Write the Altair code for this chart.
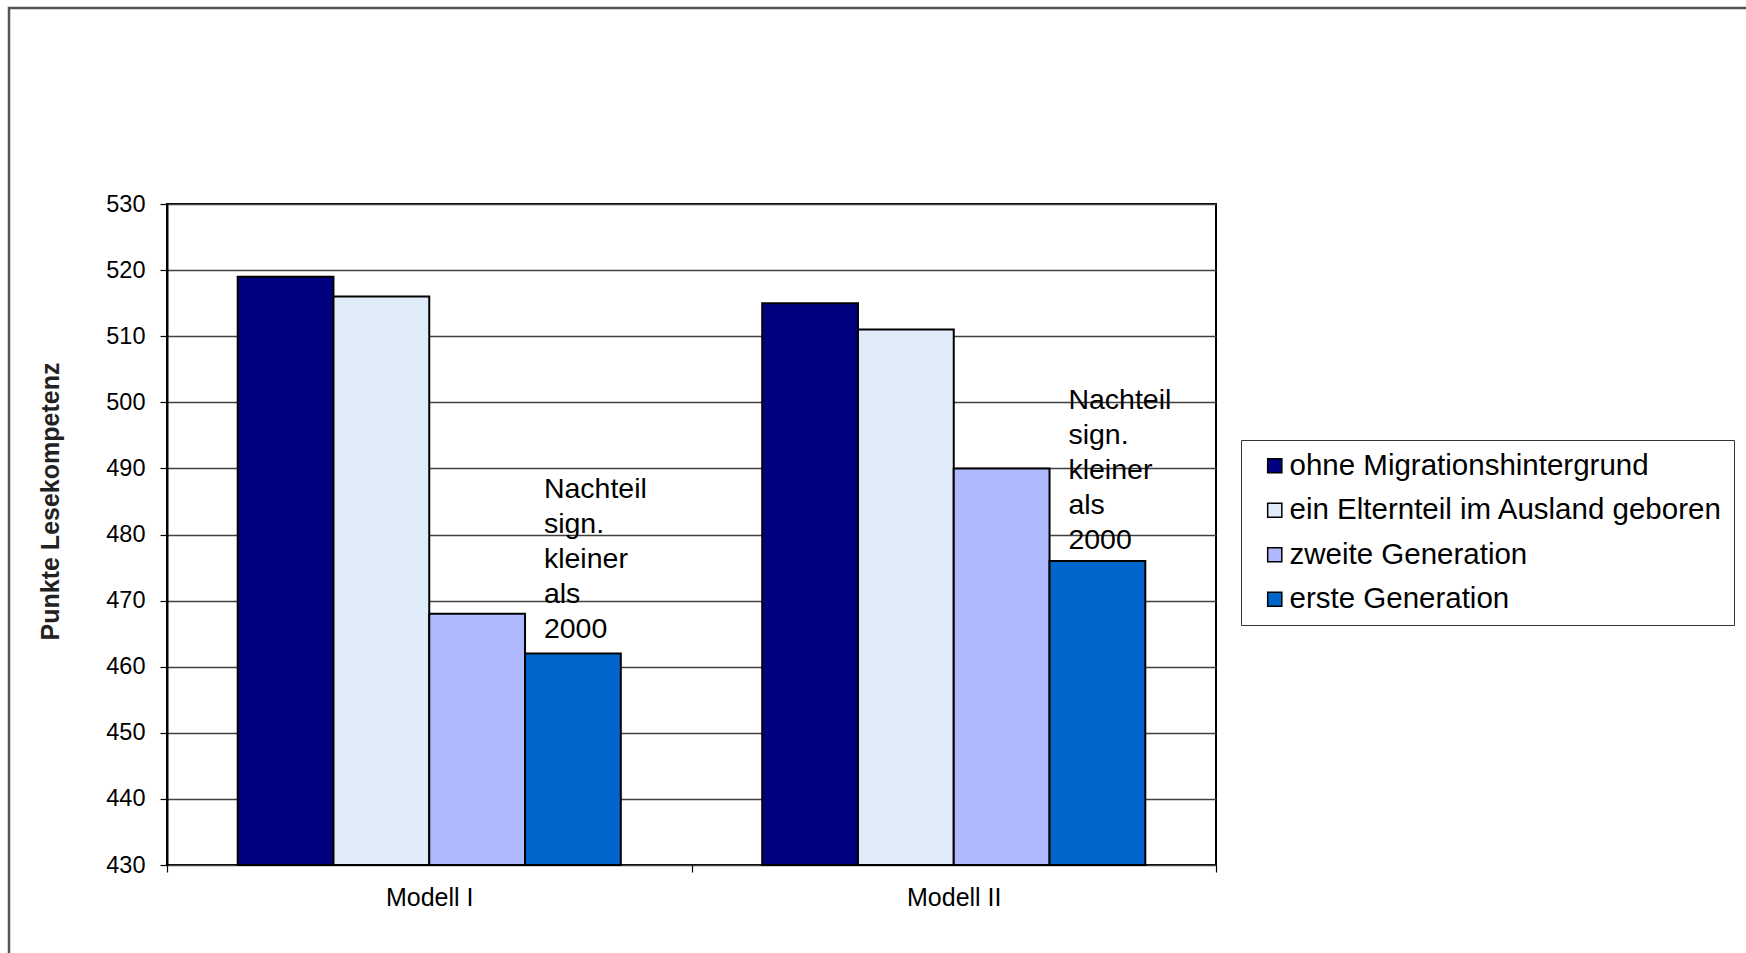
import altair as alt
import pandas as pd

modelle = ["Modell I", "Modell II"]
gruppen = ["ohne Migrationshintergrund", "ein Elternteil im Ausland geboren",
           "zweite Generation", "erste Generation"]
werte_modell_1 = [519, 516, 468, 462]
werte_modell_2 = [515, 511, 490, 476]
farben = ["#000080", "#e0ecfa", "#b0b8ff", "#0066cc"]

anm_text = ["Nachteil\nsign.\nkleiner\nals\n2000", "Nachteil\nsign.\nkleiner\nals\n2000"]
anm_y = [489, 502.5]

rows = []
for m, vals in zip(modelle, [werte_modell_1, werte_modell_2]):
    for g, v in zip(gruppen, vals):
        rows.append({"Modell": m, "Gruppe": g, "Wert": v})
df = pd.DataFrame(rows)

df_ann = pd.DataFrame({"Modell": modelle, "Gruppe": ["erste Generation"] * 2,
                       "Wert": anm_y, "Text": anm_text})

FONT = "Liberation Sans, Arial, sans-serif"

x_enc = alt.X("Modell:N", sort=modelle, title=None,
              scale=alt.Scale(paddingInner=0, paddingOuter=0),
              axis=alt.Axis(labelAngle=0, labelFontSize=25, labelFont=FONT, labelColor="#000",
                            tickBand="extent", ticks=True, tickSize=7, tickColor="#000",
                            tickWidth=1.2, domain=False, grid=False, labelPadding=13))
xo_enc = alt.XOffset("Gruppe:N", sort=gruppen,
                     scale=alt.Scale(domain=gruppen, paddingInner=0, paddingOuter=0.738))
y_enc = alt.Y("Wert:Q", title="Punkte Lesekompetenz",
              scale=alt.Scale(domain=[430, 530], zero=False, nice=False),
              axis=alt.Axis(values=list(range(430, 531, 10)), labelFontSize=23.5, labelFont=FONT,
                            labelColor="#000", tickSize=7, tickColor="#000", tickWidth=1.2,
                            labelPadding=15, domain=True, domainColor="#000", domainWidth=2,
                            grid=True, gridColor="#404040", gridWidth=1.3,
                            titleFontSize=25, titleFont=FONT, titleFontWeight="bold",
                            titleColor="#222", titleX=-117, titleY=297, titleAngle=270,
                            titleAlign="center", titleBaseline="middle"))

bars = alt.Chart(df).mark_bar(stroke="#000", strokeWidth=2).encode(
    x=x_enc, xOffset=xo_enc, y=y_enc, y2=alt.Y2(datum=430),
    color=alt.Color("Gruppe:N", sort=gruppen,
                    scale=alt.Scale(domain=gruppen, range=farben),
                    legend=alt.Legend(title=None, orient="none", legendX=1074, legendY=236,
                                      labelFontSize=29.5, labelFont=FONT, labelColor="#000",
                                      symbolType="square", symbolSize=200,
                                      symbolStrokeColor="#000", symbolStrokeWidth=1.5,
                                      symbolOffset=8,
                                      rowPadding=13.5, padding=11, labelOffset=0,
                                      strokeColor="#333", fillColor="#fff",
                                      labelLimit=600)),
)

ann = alt.Chart(df_ann).mark_text(align="left", baseline="top", fontSize=28.5, font=FONT,
                                  color="#000", lineBreak="\n", lineHeight=35, dx=-29).encode(
    x=alt.X("Modell:N", sort=modelle), xOffset=alt.XOffset("Gruppe:N", sort=gruppen),
    y="Wert:Q", text="Text:N")

frame = alt.Chart(pd.DataFrame({"a": [0]})).mark_rect(
    fill=None, stroke="#555", strokeWidth=2.5).encode(
    x=alt.value(-158), x2=alt.value(1700), y=alt.value(-196), y2=alt.value(900))

chart = alt.layer(frame, bars, ann).properties(
    width=1049, height=661,
    autosize=alt.AutoSizeParams(type="none"),
    padding={"left": 167, "top": 204, "right": 530, "bottom": 88},
    background="white",
).configure_view(stroke="#000", strokeWidth=2)

chart.save("out.html", embed_options={"renderer": "svg", "actions": False})
